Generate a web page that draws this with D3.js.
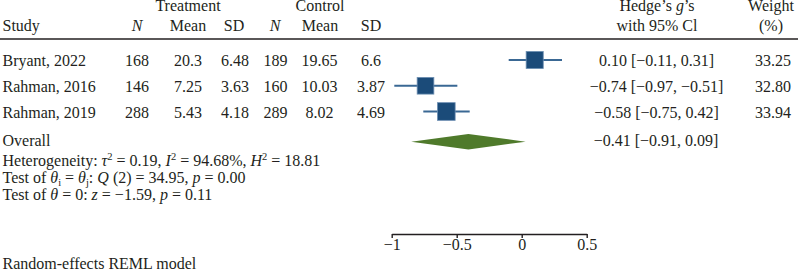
<!DOCTYPE html>
<html>
<head>
<meta charset="utf-8">
<script src="https://cdn.jsdelivr.net/npm/d3@7"></script>
<style>
  body { margin: 0; background: #fff; }
  text { font-family: "Liberation Serif", "DejaVu Serif", serif; font-size: 16px; fill: #231f20; }
</style>
</head>
<body>
<script>
// table values
const studies = ["Bryant, 2022", "Rahman, 2016", "Rahman, 2019"];
const trtN = ["168", "146", "288"];
const trtMean = ["20.3", "7.25", "5.43"];
const trtSD = ["6.48", "3.63", "4.18"];
const ctlN = ["189", "160", "289"];
const ctlMean = ["19.65", "10.03", "8.02"];
const ctlSD = ["6.6", "3.87", "4.69"];
const ciLabels = ["0.10 [\u22120.11, 0.31]", "\u22120.74 [\u22120.97, \u22120.51]", "\u22120.58 [\u22120.75, 0.42]"];
const weightLabels = ["33.25", "32.80", "33.94"];

// plotted values (as drawn)
const effect = [0.10, -0.74, -0.58];
const ciLow = [-0.10, -0.98, -0.757];
const ciHigh = [0.31, -0.495, -0.40];
const weights = [33.25, 32.80, 33.94];

const overallEst = -0.41;
const overallLow = -0.85;
const overallHigh = 0.03;
const overallLabel = "\u22120.41 [\u22120.91, 0.09]";

const axisTicks = [-1, -0.5, 0, 0.5];
const tickLabels = ["\u22121", "\u22120.5", "0", "0.5"];

const width = 798, height = 270;

const svg = d3.select("body")
  .append("svg")
  .attr("width", width)
  .attr("height", height);

const x = d3.scaleLinear()
  .domain([-1, 0.5])
  .range([391.7, 586.7]);

const rowY = d3.scalePoint()
  .domain(studies)
  .range([66, 117.5]);

const side = d3.scaleLinear()
  .domain([32.8, 33.94])
  .range([16.7, 17.7]);

// header
svg.append("text").attr("x", 188).attr("y", 11).attr("text-anchor", "middle").text("Treatment");
svg.append("text").attr("x", 320).attr("y", 11).attr("text-anchor", "middle").text("Control");
svg.append("text").attr("x", 2.5).attr("y", 31).text("Study");

const headCols = [
  {x: 137, t: "N", it: true}, {x: 188, t: "Mean"}, {x: 234, t: "SD"},
  {x: 275, t: "N", it: true}, {x: 320, t: "Mean"}, {x: 371, t: "SD"}
];
svg.selectAll(".head")
  .data(headCols).enter()
  .append("text")
  .attr("x", d => d.x)
  .attr("y", 31)
  .attr("text-anchor", "middle")
  .style("font-style", d => d.it ? "italic" : null)
  .text(d => d.t);

const hedge = svg.append("text").attr("x", 657).attr("y", 11).attr("text-anchor", "middle");
hedge.append("tspan").text("Hedge\u2019s ");
hedge.append("tspan").style("font-style", "italic").text("g");
hedge.append("tspan").text("\u2019s");
svg.append("text").attr("x", 657).attr("y", 31).attr("text-anchor", "middle").text("with 95% Cl");
svg.append("text").attr("x", 771).attr("y", 11).attr("text-anchor", "middle").text("Weight");
svg.append("text").attr("x", 771).attr("y", 31).attr("text-anchor", "middle").text("(%)");

svg.append("line")
  .attr("x1", 0).attr("x2", width)
  .attr("y1", 39).attr("y2", 39)
  .attr("stroke", "#231f20")
  .attr("stroke-width", 1.4);

// study rows
svg.selectAll(".study")
  .data(studies).enter()
  .append("text")
  .attr("x", 2.5)
  .attr("y", d => rowY(d))
  .text(d => d);

const cols = [
  {x: 137, v: trtN}, {x: 188, v: trtMean}, {x: 235, v: trtSD},
  {x: 275.5, v: ctlN}, {x: 319.5, v: ctlMean}, {x: 371, v: ctlSD},
  {x: 656.5, v: ciLabels}, {x: 773, v: weightLabels}
];
cols.forEach(function(c) {
  svg.append("g")
    .selectAll("text")
    .data(c.v).enter()
    .append("text")
    .attr("x", c.x)
    .attr("y", (d, i) => rowY(studies[i]))
    .attr("text-anchor", "middle")
    .text(d => d);
});

// CI lines and squares
svg.append("g")
  .selectAll("line")
  .data(studies).enter()
  .append("line")
  .attr("x1", (d, i) => x(ciLow[i]))
  .attr("x2", (d, i) => x(ciHigh[i]))
  .attr("y1", d => rowY(d) - 6)
  .attr("y2", d => rowY(d) - 6)
  .attr("stroke", "#3a6894")
  .attr("stroke-width", 2);

svg.append("g")
  .selectAll("rect")
  .data(studies).enter()
  .append("rect")
  .attr("x", (d, i) => x(effect[i]) - side(weights[i]) / 2)
  .attr("y", (d, i) => rowY(d) - 6 - side(weights[i]) / 2)
  .attr("width", (d, i) => side(weights[i]))
  .attr("height", (d, i) => side(weights[i]))
  .attr("fill", "#1b4b79")
  .attr("stroke", "#6d8fb2")
  .attr("stroke-width", 0.8);

// overall
svg.append("text").attr("x", 2.5).attr("y", 146).text("Overall");
svg.append("text").attr("x", 656).attr("y", 146).attr("text-anchor", "middle").text(overallLabel);

const dy = 141.7;
svg.append("path")
  .attr("d", d3.line()([
    [x(overallLow), dy], [x(overallEst), dy - 7.7],
    [x(overallHigh), dy], [x(overallEst), dy + 7.7]
  ]) + "Z")
  .attr("fill", "#4f7a2b");

// stats lines (shift: negative = superscript, positive = subscript)
const statLines = [
  {y: 166, parts: [
    {t: "Heterogeneity: "}, {t: "\u03c4", i: 1}, {t: "2", s: -6}, {t: " = 0.19, "},
    {t: "I", i: 1}, {t: "2", s: -6}, {t: " = 94.68%, "}, {t: "H", i: 1}, {t: "2", s: -6}, {t: " = 18.81"}
  ]},
  {y: 183, parts: [
    {t: "Test of "}, {t: "\u03b8", i: 1}, {t: "i", s: 3}, {t: " = "}, {t: "\u03b8", i: 1}, {t: "j", s: 3},
    {t: ": "}, {t: "Q", i: 1}, {t: " (2) = 34.95, "}, {t: "p", i: 1}, {t: " = 0.00"}
  ]},
  {y: 200, parts: [
    {t: "Test of "}, {t: "\u03b8", i: 1}, {t: " = 0: "}, {t: "z", i: 1}, {t: " = \u22121.59, "},
    {t: "p", i: 1}, {t: " = 0.11"}
  ]}
];
statLines.forEach(function(line) {
  const t = svg.append("text").attr("x", 2.5).attr("y", line.y);
  let prev = 0;
  line.parts.forEach(function(p) {
    const shift = p.s || 0;
    const s = t.append("tspan").attr("dy", shift - prev).text(p.t);
    prev = shift;
    if (p.i) s.style("font-style", "italic");
    if (p.s) s.style("font-size", "10.5px");
  });
});

svg.append("text").attr("x", 2.5).attr("y", 269).text("Random-effects REML model");

// axis
const axis = svg.append("g")
  .attr("transform", "translate(0,234)")
  .call(d3.axisBottom(x)
    .tickValues(axisTicks)
    .tickSize(4)
    .tickSizeOuter(0)
    .tickFormat((d, i) => tickLabels[i]));
axis.select(".domain").attr("stroke", "#231f20").attr("stroke-width", 1.4);
axis.selectAll(".tick line").attr("stroke", "#231f20").attr("stroke-width", 1.4);
axis.selectAll(".tick text")
  .attr("y", 16)
  .attr("dy", 0)
  .style("font-family", "'Liberation Serif', serif")
  .style("font-size", "16px")
  .attr("fill", "#231f20");
</script>
</body>
</html>
